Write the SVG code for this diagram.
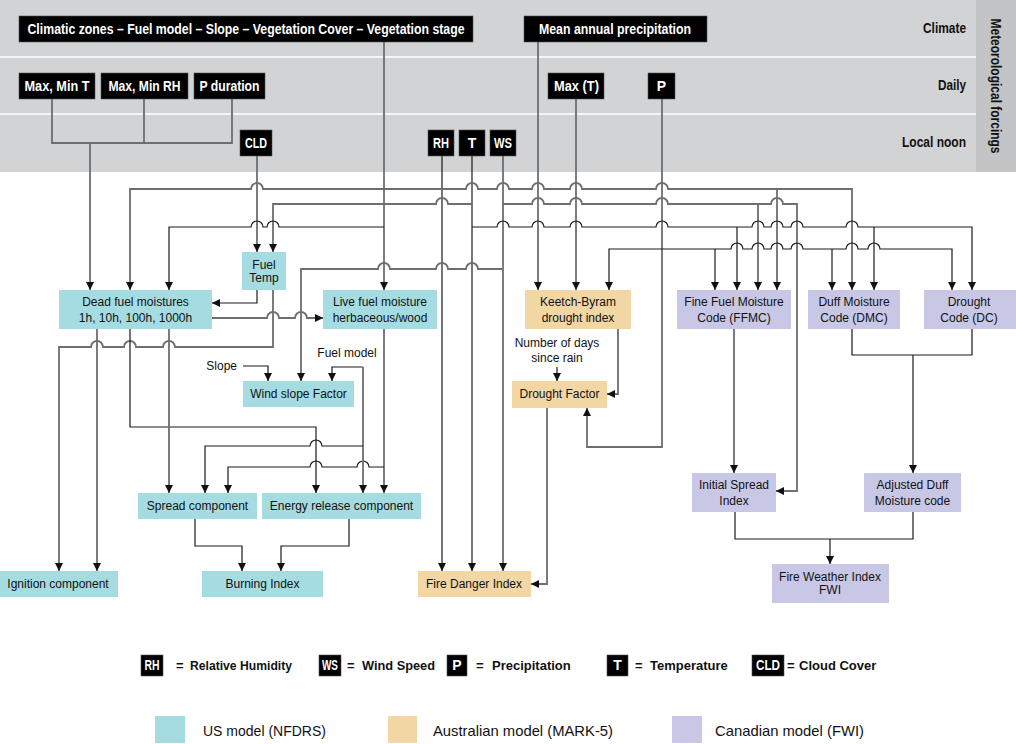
<svg xmlns="http://www.w3.org/2000/svg" width="1016" height="744" viewBox="0 0 1016 744">
<defs>
<style>
text{font-family:"Liberation Sans",Arial,sans-serif}
.n{font-size:12px;fill:#111;text-anchor:middle}
.bt{font-size:14px;font-weight:bold;fill:#fff;text-anchor:middle}
.rl{font-size:14px;font-weight:bold;fill:#111;text-anchor:end}
.lg{font-size:13px;font-weight:bold;fill:#111}
.lm{font-size:15px;fill:#111}
.bb{fill:#000;stroke:#555;stroke-width:0.6}
.cy{fill:#a4dce1}
.tn{fill:#f2d6a4}
.lv{fill:#c8c8e6}
.g{stroke:#6d6e71;stroke-width:1.8;fill:none}
.k{stroke:#1a1a1a;stroke-width:1.2;fill:none}
.a{marker-end:url(#ar)}
</style>
<marker id="ar" viewBox="0 0 10 10" refX="10" refY="5" markerWidth="8" markerHeight="8" markerUnits="userSpaceOnUse" orient="auto"><path d="M0,0 L10,5 L0,10 z" fill="#111"/></marker>
</defs>
<rect width="1016" height="744" fill="#fff"/>
<g id="band">
<rect x="0" y="0" width="1016" height="172" fill="#d2d3d5"/>
<rect x="976" y="0" width="40" height="172" fill="#c3c4c6"/>
<line x1="0" y1="57" x2="976" y2="57" stroke="#fff" stroke-width="1.5"/>
<line x1="0" y1="114" x2="976" y2="114" stroke="#fff" stroke-width="1.5"/>
<text class="rl" x="966" y="33" textLength="43" lengthAdjust="spacingAndGlyphs">Climate</text>
<text class="rl" x="966" y="90" textLength="28" lengthAdjust="spacingAndGlyphs">Daily</text>
<text class="rl" x="966" y="147" textLength="64" lengthAdjust="spacingAndGlyphs">Local noon</text>
<text class="lg" transform="translate(991,86) rotate(90)" text-anchor="middle" style="font-size:14px" textLength="135" lengthAdjust="spacingAndGlyphs">Meteorological forcings</text>
</g>
<g id="connectors">
<path class="g" d="M52,99V143H232V99M144,99V143"/>
<path class="g a" d="M90,143V290"/>
<path class="g a" d="M257,156V252"/>
<path class="g a" d="M384,42V290"/>
<path class="k a" d="M442,156V571"/>
<path class="k a" d="M472,156V571"/>
<path class="g a" d="M503,156V571"/>
<path class="g a" d="M538,42V290"/>
<path class="g a" d="M576,99V290"/>
<path class="g a" d="M662,99V447H587V408"/>
<path class="g a" d="M442,189H263a6,6 0 0 0 -12,0H130V290"/>
<path class="g a" d="M442,189H466a6,6 0 0 1 12,0H497a6,6 0 0 1 12,0H532a6,6 0 0 1 12,0H570a6,6 0 0 1 12,0H656a6,6 0 0 1 12,0H852V290"/>
<path class="g a" d="M777,189V290"/>
<path class="g a" d="M472,204H448a6,6 0 0 0 -12,0H273V252"/>
<path class="g a" d="M503,204H532a6,6 0 0 1 12,0H570a6,6 0 0 1 12,0H656a6,6 0 0 1 12,0H771a6,6 0 0 1 12,0H797V491H776"/>
<path class="g a" d="M758,204V290"/>
<path class="k a" d="M384,227H279a6,6 0 0 0 -12,0H263a6,6 0 0 0 -12,0H169V290"/>
<path class="k a" d="M472,227H497a6,6 0 0 1 12,0H532a6,6 0 0 1 12,0H570a6,6 0 0 1 12,0H656a6,6 0 0 1 12,0H752a6,6 0 0 1 12,0H771a6,6 0 0 1 12,0H791a6,6 0 0 1 12,0H846a6,6 0 0 1 12,0H972V290"/>
<path class="k a" d="M737,227V290"/>
<path class="k a" d="M874,227V290"/>
<path class="k a" d="M662,249H609V290"/>
<path class="k a" d="M662,249H731a6,6 0 0 1 12,0H752a6,6 0 0 1 12,0H771a6,6 0 0 1 12,0H791a6,6 0 0 1 12,0H846a6,6 0 0 1 12,0H868a6,6 0 0 1 12,0H952V290"/>
<path class="k a" d="M715,249V290"/>
<path class="k a" d="M832,249V290"/>
<path class="g a" d="M503,269H478a6,6 0 0 0 -12,0H448a6,6 0 0 0 -12,0H390a6,6 0 0 0 -12,0H301V381"/>
<path class="k a" d="M257,290V303H212"/>
<path class="g a" d="M273,290V347H175a6,6 0 0 0 -12,0H136a6,6 0 0 0 -12,0H103a6,6 0 0 0 -12,0H59V571"/>
<path class="g a" d="M212,318H267a6,6 0 0 1 12,0H295a6,6 0 0 1 12,0H323"/>
<path class="g a" d="M97,329V571"/>
<path class="k a" d="M130,329V427H316V493"/>
<path class="g a" d="M169,329V493"/>
<path class="g a" d="M384,329V493"/>
<path class="k a" d="M384,467H369a6,6 0 0 0 -12,0H322a6,6 0 0 0 -12,0H228V493"/>
<path class="k a" d="M363,367H332V381"/>
<path class="g a" d="M363,367V493"/>
<path class="k a" d="M363,446H322a6,6 0 0 0 -12,0H205V493"/>
<path class="k a" d="M243,366H268V381"/>
<path class="k a" d="M195,519V546H242V571"/>
<path class="k a" d="M349,519V546H281V571"/>
<path class="g a" d="M618,329V394H607"/>
<path class="k a" d="M557,367V381"/>
<path class="g a" d="M547,408V584H531"/>
<path class="g a" d="M734,329V473"/>
<path class="k" d="M852,329V355H972V329"/>
<path class="k a" d="M913,355V473"/>
<path class="k" d="M735,512V539H913V512"/>
<path class="k a" d="M830,539V564"/>
</g>
<g id="climatic"><rect class="bb" x="19" y="16" width="454" height="26"/><text class="bt" x="246" y="34" textLength="437" lengthAdjust="spacingAndGlyphs">Climatic zones – Fuel model – Slope – Vegetation Cover – Vegetation stage</text></g>
<g id="map"><rect class="bb" x="524" y="16" width="183" height="26"/><text class="bt" x="615" y="34" textLength="152" lengthAdjust="spacingAndGlyphs">Mean annual precipitation</text></g>
<g id="maxmint"><rect class="bb" x="19" y="73" width="76" height="26"/><text class="bt" x="57" y="91" textLength="65" lengthAdjust="spacingAndGlyphs">Max, Min T</text></g>
<g id="maxminrh"><rect class="bb" x="101" y="73" width="87" height="26"/><text class="bt" x="144.5" y="91" textLength="72" lengthAdjust="spacingAndGlyphs">Max, Min RH</text></g>
<g id="pduration"><rect class="bb" x="194" y="73" width="71" height="26"/><text class="bt" x="229.5" y="91" textLength="60" lengthAdjust="spacingAndGlyphs">P duration</text></g>
<g id="maxt"><rect class="bb" x="548" y="73" width="56" height="26"/><text class="bt" x="576.5" y="91" textLength="45" lengthAdjust="spacingAndGlyphs">Max (T)</text></g>
<g id="p"><rect class="bb" x="648" y="73" width="27" height="26"/><text class="bt" x="661.5" y="91">P</text></g>
<g id="cld"><rect class="bb" x="240" y="130" width="32" height="26"/><text class="bt" x="256" y="148" textLength="22" lengthAdjust="spacingAndGlyphs">CLD</text></g>
<g id="rh"><rect class="bb" x="428" y="130" width="26" height="26"/><text class="bt" x="441" y="148" textLength="16" lengthAdjust="spacingAndGlyphs">RH</text></g>
<g id="t"><rect class="bb" x="459" y="130" width="26" height="26"/><text class="bt" x="472" y="148">T</text></g>
<g id="ws"><rect class="bb" x="490" y="130" width="26" height="26"/><text class="bt" x="503" y="148" textLength="18" lengthAdjust="spacingAndGlyphs">WS</text></g>
<g id="deadfuel"><rect class="cy" x="59" y="290" width="153" height="39"/><text class="n" x="135.5" y="306">Dead fuel moistures</text><text class="n" x="135.5" y="322">1h, 10h, 100h, 1000h</text></g>
<g id="fueltemp"><rect class="cy" x="242" y="252" width="44" height="38"/><text class="n" x="264" y="269">Fuel</text><text class="n" x="264" y="282">Temp</text></g>
<g id="livefuel"><rect class="cy" x="323" y="290" width="114" height="39"/><text class="n" x="380" y="306">Live fuel moisture</text><text class="n" x="380" y="322">herbaceous/wood</text></g>
<g id="kbdi"><rect class="tn" x="525" y="290" width="106" height="39"/><text class="n" x="578" y="306">Keetch-Byram</text><text class="n" x="578" y="322">drought index</text></g>
<g id="ffmc"><rect class="lv" x="677" y="290" width="114" height="39"/><text class="n" x="734" y="306">Fine Fuel Moisture</text><text class="n" x="734" y="322">Code (FFMC)</text></g>
<g id="dmc"><rect class="lv" x="808" y="290" width="92" height="39"/><text class="n" x="854" y="306">Duff Moisture</text><text class="n" x="854" y="322">Code (DMC)</text></g>
<g id="dc"><rect class="lv" x="924" y="290" width="92" height="39"/><text class="n" x="969" y="306">Drought</text><text class="n" x="969" y="322">Code (DC)</text></g>
<g id="windslope"><rect class="cy" x="243" y="381" width="111" height="26"/><text class="n" x="298.5" y="398">Wind slope Factor</text></g>
<g id="slope"><text class="n" x="237" y="370" style="text-anchor:end">Slope</text></g>
<g id="fuelmodel"><text class="n" x="347" y="357">Fuel model</text></g>
<g id="days"><text class="n" x="557" y="347">Number of days</text><text class="n" x="557" y="362">since rain</text></g>
<g id="droughtfactor"><rect class="tn" x="512" y="381" width="95" height="27"/><text class="n" x="559.5" y="398">Drought Factor</text></g>
<g id="spread"><rect class="cy" x="138" y="493" width="119" height="26"/><text class="n" x="197.5" y="510">Spread component</text></g>
<g id="erc"><rect class="cy" x="262" y="493" width="159" height="26"/><text class="n" x="341.5" y="510">Energy release component</text></g>
<g id="ignition"><rect class="cy" x="0" y="571" width="118" height="26"/><text class="n" x="58" y="588">Ignition component</text></g>
<g id="burning"><rect class="cy" x="202" y="571" width="121" height="26"/><text class="n" x="262.5" y="588">Burning Index</text></g>
<g id="fdi"><rect class="tn" x="418" y="571" width="113" height="26"/><text class="n" x="474" y="588">Fire Danger Index</text></g>
<g id="isi"><rect class="lv" x="692" y="473" width="84" height="39"/><text class="n" x="734" y="489">Initial Spread</text><text class="n" x="734" y="505">Index</text></g>
<g id="admc"><rect class="lv" x="864" y="473" width="97" height="39"/><text class="n" x="912.5" y="489">Adjusted Duff</text><text class="n" x="912.5" y="505">Moisture code</text></g>
<g id="fwi"><rect class="lv" x="772" y="564" width="117" height="39"/><text class="n" x="830" y="581">Fire Weather Index</text><text class="n" x="830" y="594">FWI</text></g>
<g id="legend">
<rect class="bb" x="141" y="655" width="22" height="21"/><text class="bt" x="152" y="670" textLength="15" lengthAdjust="spacingAndGlyphs">RH</text>
<text class="lg" x="176" y="670">=</text><text class="lg" x="190" y="670" textLength="102" lengthAdjust="spacingAndGlyphs">Relative Humidity</text>
<rect class="bb" x="319" y="655" width="22" height="21"/><text class="bt" x="330" y="670" textLength="16" lengthAdjust="spacingAndGlyphs">WS</text>
<text class="lg" x="347" y="670">=</text><text class="lg" x="362" y="670" textLength="73" lengthAdjust="spacingAndGlyphs">Wind Speed</text>
<rect class="bb" x="447" y="655" width="20" height="21"/><text class="bt" x="457" y="670">P</text>
<text class="lg" x="476" y="670">=</text><text class="lg" x="492" y="670">Precipitation</text>
<rect class="bb" x="607" y="655" width="21" height="21"/><text class="bt" x="617.5" y="670">T</text>
<text class="lg" x="635" y="670">=</text><text class="lg" x="650" y="670">Temperature</text>
<rect class="bb" x="752" y="655" width="32" height="21"/><text class="bt" x="768" y="670" textLength="24" lengthAdjust="spacingAndGlyphs">CLD</text>
<text class="lg" x="787" y="670">=</text><text class="lg" x="799" y="670">Cloud Cover</text>
<rect class="cy" x="155" y="716" width="30" height="27"/><text class="lm" x="203" y="736" textLength="123" lengthAdjust="spacingAndGlyphs">US model (NFDRS)</text>
<rect class="tn" x="388" y="716" width="29" height="27"/><text class="lm" x="433" y="736" textLength="180" lengthAdjust="spacingAndGlyphs">Australian model (MARK-5)</text>
<rect class="lv" x="672" y="716" width="30" height="27"/><text class="lm" x="715" y="736" textLength="149" lengthAdjust="spacingAndGlyphs">Canadian model (FWI)</text>
</g>
</svg>
